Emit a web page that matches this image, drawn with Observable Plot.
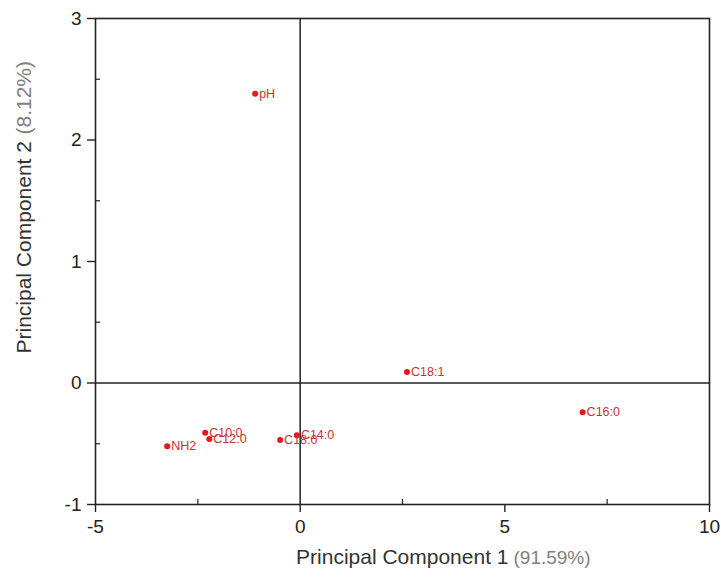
<!DOCTYPE html>
<html><head><meta charset="utf-8">
<script src="https://cdn.jsdelivr.net/npm/d3@7"></script>
<script src="https://cdn.jsdelivr.net/npm/@observablehq/plot@0.6"></script>
<style>body{margin:0;background:#fff}</style>
</head><body><div id="chart"></div>
<script>
const labels = ["pH", "C18:1", "C16:0", "C10:0", "C12:0", "NH2", "C14:0", "C18:0"];
const pc1 = [-1.10, 2.61, 6.90, -2.32, -2.22, -3.25, -0.08, -0.49];
const pc2 = [2.38, 0.09, -0.24, -0.41, -0.46, -0.52, -0.43, -0.47];
const xMajorTicks = [-5, 0, 5, 10];
const xMinorTicks = [-2.5, 2.5, 7.5];
const yMajorTicks = [-1, 0, 1, 2, 3];
const yMinorTicks = [-0.5, 0.5, 1.5, 2.5];
const xTitle = "Principal Component 1";
const xTitleNote = "(91.59%)";
const yTitle = "Principal Component 2";
const yTitleNote = "(8.12%)";

const points = labels.map((label, i) => ({label, pc1: pc1[i], pc2: pc2[i]}));
const ink = "#222";
const fmt = d => String(d);

const chart = Plot.plot({
  width: 721, height: 580,
  marginLeft: 95, marginRight: 12, marginTop: 18, marginBottom: 76,
  style: {fontFamily: "'Liberation Sans', Arial, sans-serif", fontSize: "19px", color: ink, background: "#fff", overflow: "visible"},
  x: {domain: [-5, 10], label: null},
  y: {domain: [-1, 3], label: null},
  marks: [
    Plot.ruleX([0], {stroke: ink, strokeWidth: 1.5}),
    Plot.ruleY([0], {stroke: ink, strokeWidth: 1.5}),
    Plot.frame({stroke: ink, strokeWidth: 1.6}),
    Plot.axisX(xMajorTicks, {anchor: "bottom", tickSize: 8, tickPadding: 7, tickFormat: fmt, stroke: ink, strokeWidth: 1.4, fill: ink, fontSize: 19}),
    Plot.axisX(xMinorTicks, {anchor: "bottom", tickSize: 5, dy: -5, stroke: ink, strokeWidth: 1.2, fill: "none"}),
    Plot.axisY(yMajorTicks, {anchor: "left", tickSize: 8, tickPadding: 6, tickFormat: fmt, stroke: ink, strokeWidth: 1.4, fill: ink, fontSize: 19}),
    Plot.axisY(yMinorTicks, {anchor: "left", tickSize: 5, dx: 5, stroke: ink, strokeWidth: 1.2, fill: "none"}),
    Plot.text([xTitle], {text: d => d, frameAnchor: "bottom", textAnchor: "end", dx: 106, dy: 59, fontSize: 21, fill: "#333"}),
    Plot.text([xTitleNote], {text: d => d, frameAnchor: "bottom", textAnchor: "start", dx: 111, dy: 59, fontSize: 19, fill: "#808080"}),
    Plot.text([yTitle], {text: d => d, frameAnchor: "left", textAnchor: "start", rotate: -90, dx: -71, dy: 92, fontSize: 21, fill: "#333"}),
    Plot.text([yTitleNote], {text: d => d, frameAnchor: "left", textAnchor: "start", rotate: -90, dx: -71, dy: -127, fontSize: 21, fill: "#808080"}),
    Plot.dot(points, {x: "pc1", y: "pc2", r: 3, fill: "#e3171d", stroke: "none"}),
    Plot.text(points, {x: "pc1", y: "pc2", text: "label", dx: 4, textAnchor: "start", fontSize: 12.5, fontFamily: "'Liberation Sans Narrow', 'Liberation Sans', sans-serif", fill: "#c8322f"})
  ]
});
document.getElementById("chart").appendChild(chart);
</script>
</body></html>
